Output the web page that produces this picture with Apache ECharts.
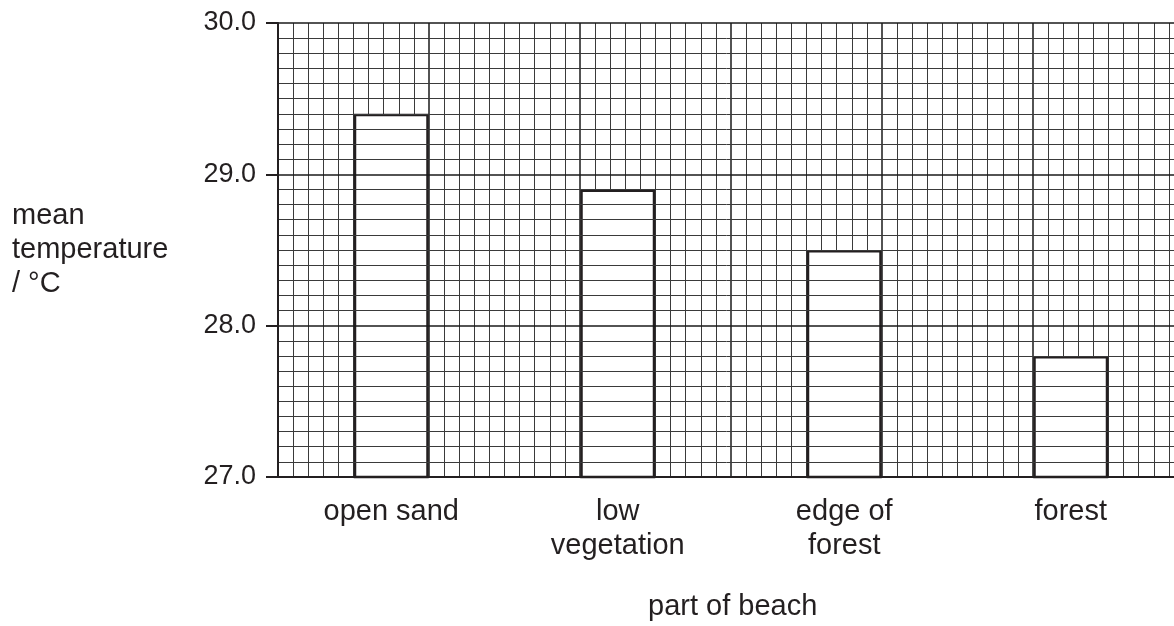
<!DOCTYPE html>
<html>
<head>
<meta charset="utf-8">
<script src="https://cdn.jsdelivr.net/npm/echarts@6/dist/echarts.min.js"></script>
<style>
  html, body { margin: 0; padding: 0; background: #fff; }
  #chart { width: 1174px; height: 626px; }
</style>
</head>
<body>
<div id="chart"></div>
<script>
var categories = ['open sand', 'low\nvegetation', 'edge of\nforest', 'forest'];
var meanTemp = [29.4, 28.9, 28.5, 27.8];
var yTicks = [27, 28, 29, 30];
var yName = 'mean\ntemperature\n/ \u00b0C';
var xName = 'part of beach';

var ink = '#231f20';
var font = "'Liberation Sans', Arial, sans-serif";

var chart = echarts.init(document.getElementById('chart'));
chart.setOption({
  animation: false,
  backgroundColor: '#fff',
  // grid runs past the right edge of the picture, like the cropped original
  grid: { left: 278, top: 23, width: 906, height: 454, outerBoundsMode: 'none', containLabel: false },
  xAxis: [{
    type: 'category',
    data: categories,
    position: 'bottom',
    axisLine: { show: true, lineStyle: { color: ink, width: 2 } },
    axisTick: { show: false },
    axisLabel: { interval: 0, margin: 18, fontSize: 29, lineHeight: 34, color: ink, fontFamily: font },
    splitLine: { show: false },
    z: 5
  }, {
    // grid paper, vertical lines
    type: 'value',
    min: 0, max: 6, interval: 1,
    position: 'top',
    axisLine: { show: false },
    axisTick: { show: false },
    axisLabel: { show: false },
    splitLine: { show: true, lineStyle: { color: '#1a1a1a', width: 1.5 } },
    minorTick: { show: false, splitNumber: 10 },
    minorSplitLine: { show: true, lineStyle: { color: '#3a3a3a', width: 1 } }
  }],
  yAxis: [{
    type: 'value',
    min: yTicks[0], max: yTicks[yTicks.length - 1], interval: 1,
    axisLine: { show: true, lineStyle: { color: ink, width: 2 } },
    axisTick: { show: true, length: 12, lineStyle: { color: ink, width: 2 } },
    axisLabel: {
      margin: 22, fontSize: 27, color: ink, fontFamily: font,
      formatter: function (v) { return v.toFixed(1); }
    },
    splitLine: { show: true, lineStyle: { color: '#1a1a1a', width: 1.5 } },
    minorTick: { show: false, splitNumber: 10 },
    minorSplitLine: { show: true, lineStyle: { color: '#3a3a3a', width: 1 } },
    z: 5
  }],
  graphic: [{
    type: 'text', left: 12, top: 199,
    style: { text: yName, fontSize: 29, lineHeight: 34, fill: ink, fontFamily: font }
  }, {
    type: 'text', left: 648, top: 592,
    style: { text: xName, fontSize: 29, fill: ink, fontFamily: font }
  }],
  series: [{
    type: 'bar',
    xAxisIndex: 0,
    yAxisIndex: 0,
    data: meanTemp,
    barWidth: 75,
    clip: true,
    itemStyle: { color: '#fff', borderColor: ink, borderWidth: 2.5 },
    z: 3
  }]
});
</script>
</body>
</html>
